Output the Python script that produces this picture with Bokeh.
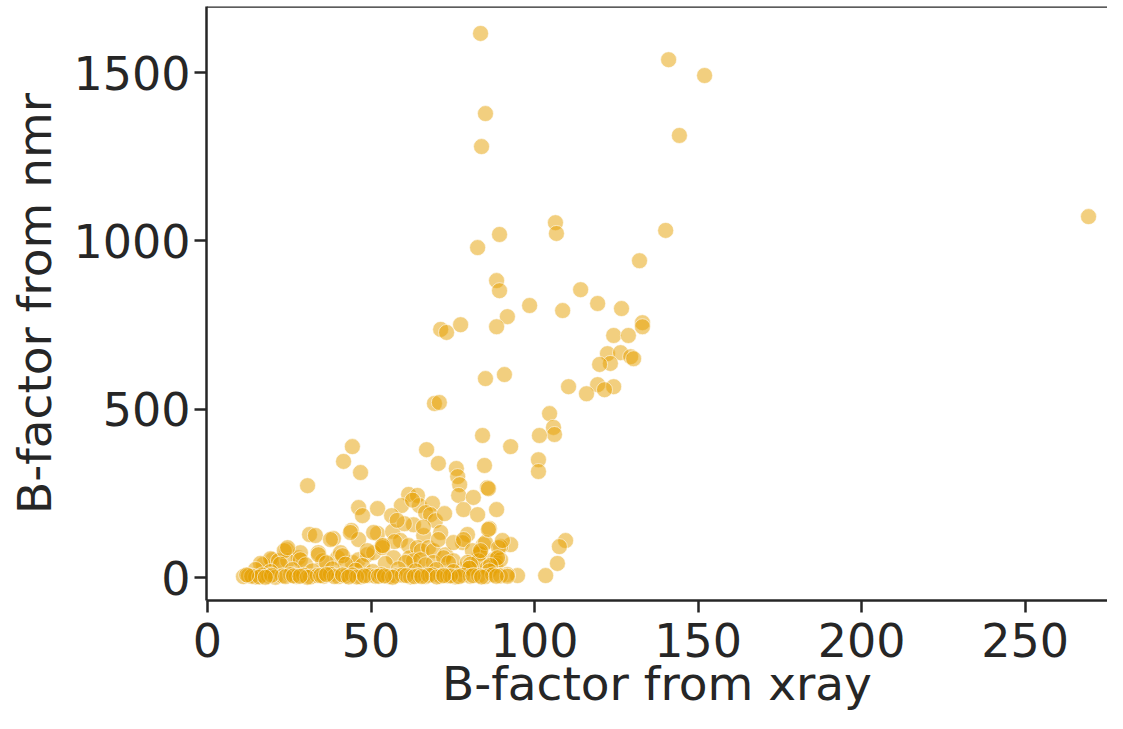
from bokeh.plotting import figure
from bokeh.models import FixedTicker, Range1d, Span
from bokeh.embed import file_html
from bokeh.resources import INLINE

# ---- data: B-factors (x-ray vs NMR) ----
xray_outer = [83.5, 141.0, 152.0, 85.0, 144.3, 83.8, 269.4, 106.4, 106.7, 140.1,
              89.3, 82.6, 132.1, 88.4, 114.1, 89.3, 98.5, 119.3, 126.6, 108.6,
              91.7, 77.4, 88.4, 71.3, 73.1, 133.0, 133.0, 124.2, 128.7, 122.3,
              126.3, 129.4, 130.3, 123.2, 119.9, 85.0, 90.8, 110.4, 119.3, 124.2,
              115.9, 121.4, 69.4, 70.9, 104.6, 105.8, 106.1, 101.5, 84.1, 92.7,
              44.3, 67.0, 41.6, 70.6, 84.7, 46.8, 101.2, 101.2, 30.6, 76.1,
              76.5, 77.1, 85.6, 85.9, 76.8, 81.3, 78.3, 82.6, 88.4, 86.2,
              92.7, 109.5, 107.6, 107.0, 103.4, 94.8, 84.4, 83.5, 87.5, 89.6]
nmr_outer = [1616, 1538, 1491, 1378, 1313, 1280, 1072, 1054, 1022, 1031,
             1019, 980, 941, 882, 855, 852, 808, 814, 799, 793,
             775, 751, 745, 737, 728, 757, 745, 719, 719, 665,
             668, 656, 650, 636, 633, 591, 603, 567, 573, 567,
             546, 558, 517, 520, 487, 446, 425, 422, 422, 389,
             389, 380, 345, 339, 333, 312, 350, 315, 273, 324,
             300, 276, 267, 264, 244, 238, 202, 187, 202, 146,
             98, 110, 92, 42, 6, 6, 98, 74, 53, 92]

xray_mid = [61.5, 64.2, 59.3, 52.0, 46.2, 47.4, 56.3, 63.0, 64.8, 68.8,
            66.7, 68.2, 69.7, 31.2, 33.0, 38.5, 44.0, 46.2, 52.0, 56.6,
            59.0, 66.1, 71.3, 79.5, 78.0, 83.2, 88.1, 53.8, 57.2, 61.5,
            61.8, 64.2, 65.4, 67.6, 69.1, 70.6, 72.8, 75.2, 78.3, 81.0,
            85.0, 89.0, 81.3, 78.3, 24.2, 19.9, 17.1, 27.8, 28.4, 33.9,
            35.2, 39.8, 40.7, 44.3, 46.2, 48.9, 50.8, 53.5, 56.9, 63.0,
            65.1, 69.1, 72.2, 75.2, 79.5, 82.9, 85.6, 88.1, 89.6, 19.3,
            21.7, 24.5, 28.4, 23.5, 33.9, 48.9, 53.5]
nmr_mid = [247, 244, 214, 205, 208, 184, 184, 157, 214, 220,
           193, 187, 169, 128, 125, 116, 140, 113, 131, 137,
           110, 125, 134, 128, 104, 71, 53, 95, 107, 95,
           59, 89, 80, 89, 80, 113, 68, 104, 113, 80,
           104, 89, 30, 24, 83, 53, 39, 59, 74, 74,
           50, 59, 74, 45, 53, 68, 74, 89, 59, 50,
           53, 45, 59, 50, 45, 50, 30, 36, 53, 56,
           50, 50, 53, 80, 68, 80, 95]

xray_extra = [85.9, 90.2, 83.5, 88.7, 91.7, 24.5, 37.6, 41.3, 43.7, 50.8,
              60.2, 66.0, 72.5, 58.0, 62.7]
nmr_extra = [143, 110, 80, 59, 9, 89, 113, 65, 134, 134,
             160, 150, 190, 170, 230]

xray_row40 = [16.2, 22.3, 30.0, 36.4, 42.2, 47.4, 54.4, 60.6, 66.7, 73.7, 80.4, 86.5]
nmr_row40 = [42, 40, 38, 44, 40, 36, 42, 45, 38, 44, 40, 36]

xray_row20 = [14.7, 19.3, 26.0, 32.1, 38.2, 45.3, 50.5, 58.4, 63.6, 70.0, 75.2, 80.1, 86.2]
nmr_row20 = [24, 18, 24, 20, 26, 22, 18, 26, 20, 24, 18, 28, 20]

xray_low_a = [11.0, 12.5, 14.7, 16.8, 18.7, 20.8, 22.9, 25.4, 27.2, 29.4,
              31.5, 33.6, 35.5, 37.6, 40.1, 42.2, 44.3, 46.8, 49.2, 51.4,
              53.2, 55.4, 57.5, 59.6, 62.1, 64.5, 66.7, 68.8, 71.3, 73.4,
              75.8, 78.0, 80.4, 82.9, 85.0, 87.2, 89.6, 91.7]
nmr_low_a = [3, 6, 2, 8, 4, 1, 5, 9, 3, 7,
             2, 6, 4, 10, 3, 5, 8, 2, 6, 4,
             9, 3, 5, 7, 2, 6, 3, 8, 4, 5,
             2, 7, 4, 6, 3, 8, 5, 4]

xray_low_b = [13.5, 15.9, 19.6, 23.9, 26.3, 30.5, 34.6, 38.8, 41.3, 45.6,
              48.0, 52.3, 56.6, 60.8, 63.3, 67.6, 70.1, 74.3, 76.9, 81.2,
              83.8, 88.3, 12.0, 17.7, 28.3, 36.4, 43.2, 54.1, 65.5, 72.2]
nmr_low_b = [4, 2, 7, 3, 5, 1, 6, 3, 8, 2,
             5, 4, 1, 6, 3, 7, 2, 5, 3, 6,
             2, 4, 8, 1, 4, 9, 2, 5, 3, 6]

x_ticks = [0, 50, 100, 150, 200, 250]
y_ticks = [0, 500, 1000, 1500]
x_label = "B-factor from xray"
y_label = "B-factor from nmr"

xray = xray_outer + xray_mid + xray_extra + xray_row40 + xray_row20 + xray_low_a + xray_low_b
nmr = nmr_outer + nmr_mid + nmr_extra + nmr_row40 + nmr_row20 + nmr_low_a + nmr_low_b

INK = "#262626"
FONT = "DejaVu Sans"
X0, X1 = -0.3, 275.2
Y0, Y1 = -68, 1696

p = figure(width=1107, height=713,
           x_range=Range1d(X0, X1), y_range=Range1d(Y0, Y1),
           output_backend="svg", toolbar_location=None,
           min_border_left=206, min_border_right=0,
           min_border_top=6, min_border_bottom=113)
p.background_fill_color = "white"
p.border_fill_color = "white"
p.grid.visible = False
p.outline_line_color = None

p.scatter(xray, nmr, size=16, fill_color="#E69F00", fill_alpha=0.5,
          line_color="white", line_alpha=0.6, line_width=1)

# top spine (right spine is outside the visible area in the reference)
p.add_layout(Span(location=Y1, dimension="width", line_color=INK, line_width=2.5))

p.xaxis.ticker = FixedTicker(ticks=x_ticks)
p.yaxis.ticker = FixedTicker(ticks=y_ticks)
p.xaxis.axis_label = x_label
p.yaxis.axis_label = y_label

for ax in (p.xaxis, p.yaxis):
    ax.axis_line_color = INK
    ax.axis_line_width = 2.5
    ax.major_tick_line_color = INK
    ax.major_tick_line_width = 2.5
    ax.major_tick_out = 12
    ax.major_tick_in = 0
    ax.minor_tick_line_color = None
    ax.major_label_text_font = FONT
    ax.major_label_text_font_size = "46px"
    ax.major_label_text_color = INK
    ax.axis_label_text_font = FONT
    ax.axis_label_text_font_size = "47px"
    ax.axis_label_text_font_style = "normal"
    ax.axis_label_text_color = INK

p.yaxis.major_label_standoff = 4
p.yaxis.axis_label_standoff = 8
p.xaxis.major_label_standoff = 10
p.xaxis.axis_label_standoff = -4

open("out.html", "w").write(file_html(p, INLINE))
